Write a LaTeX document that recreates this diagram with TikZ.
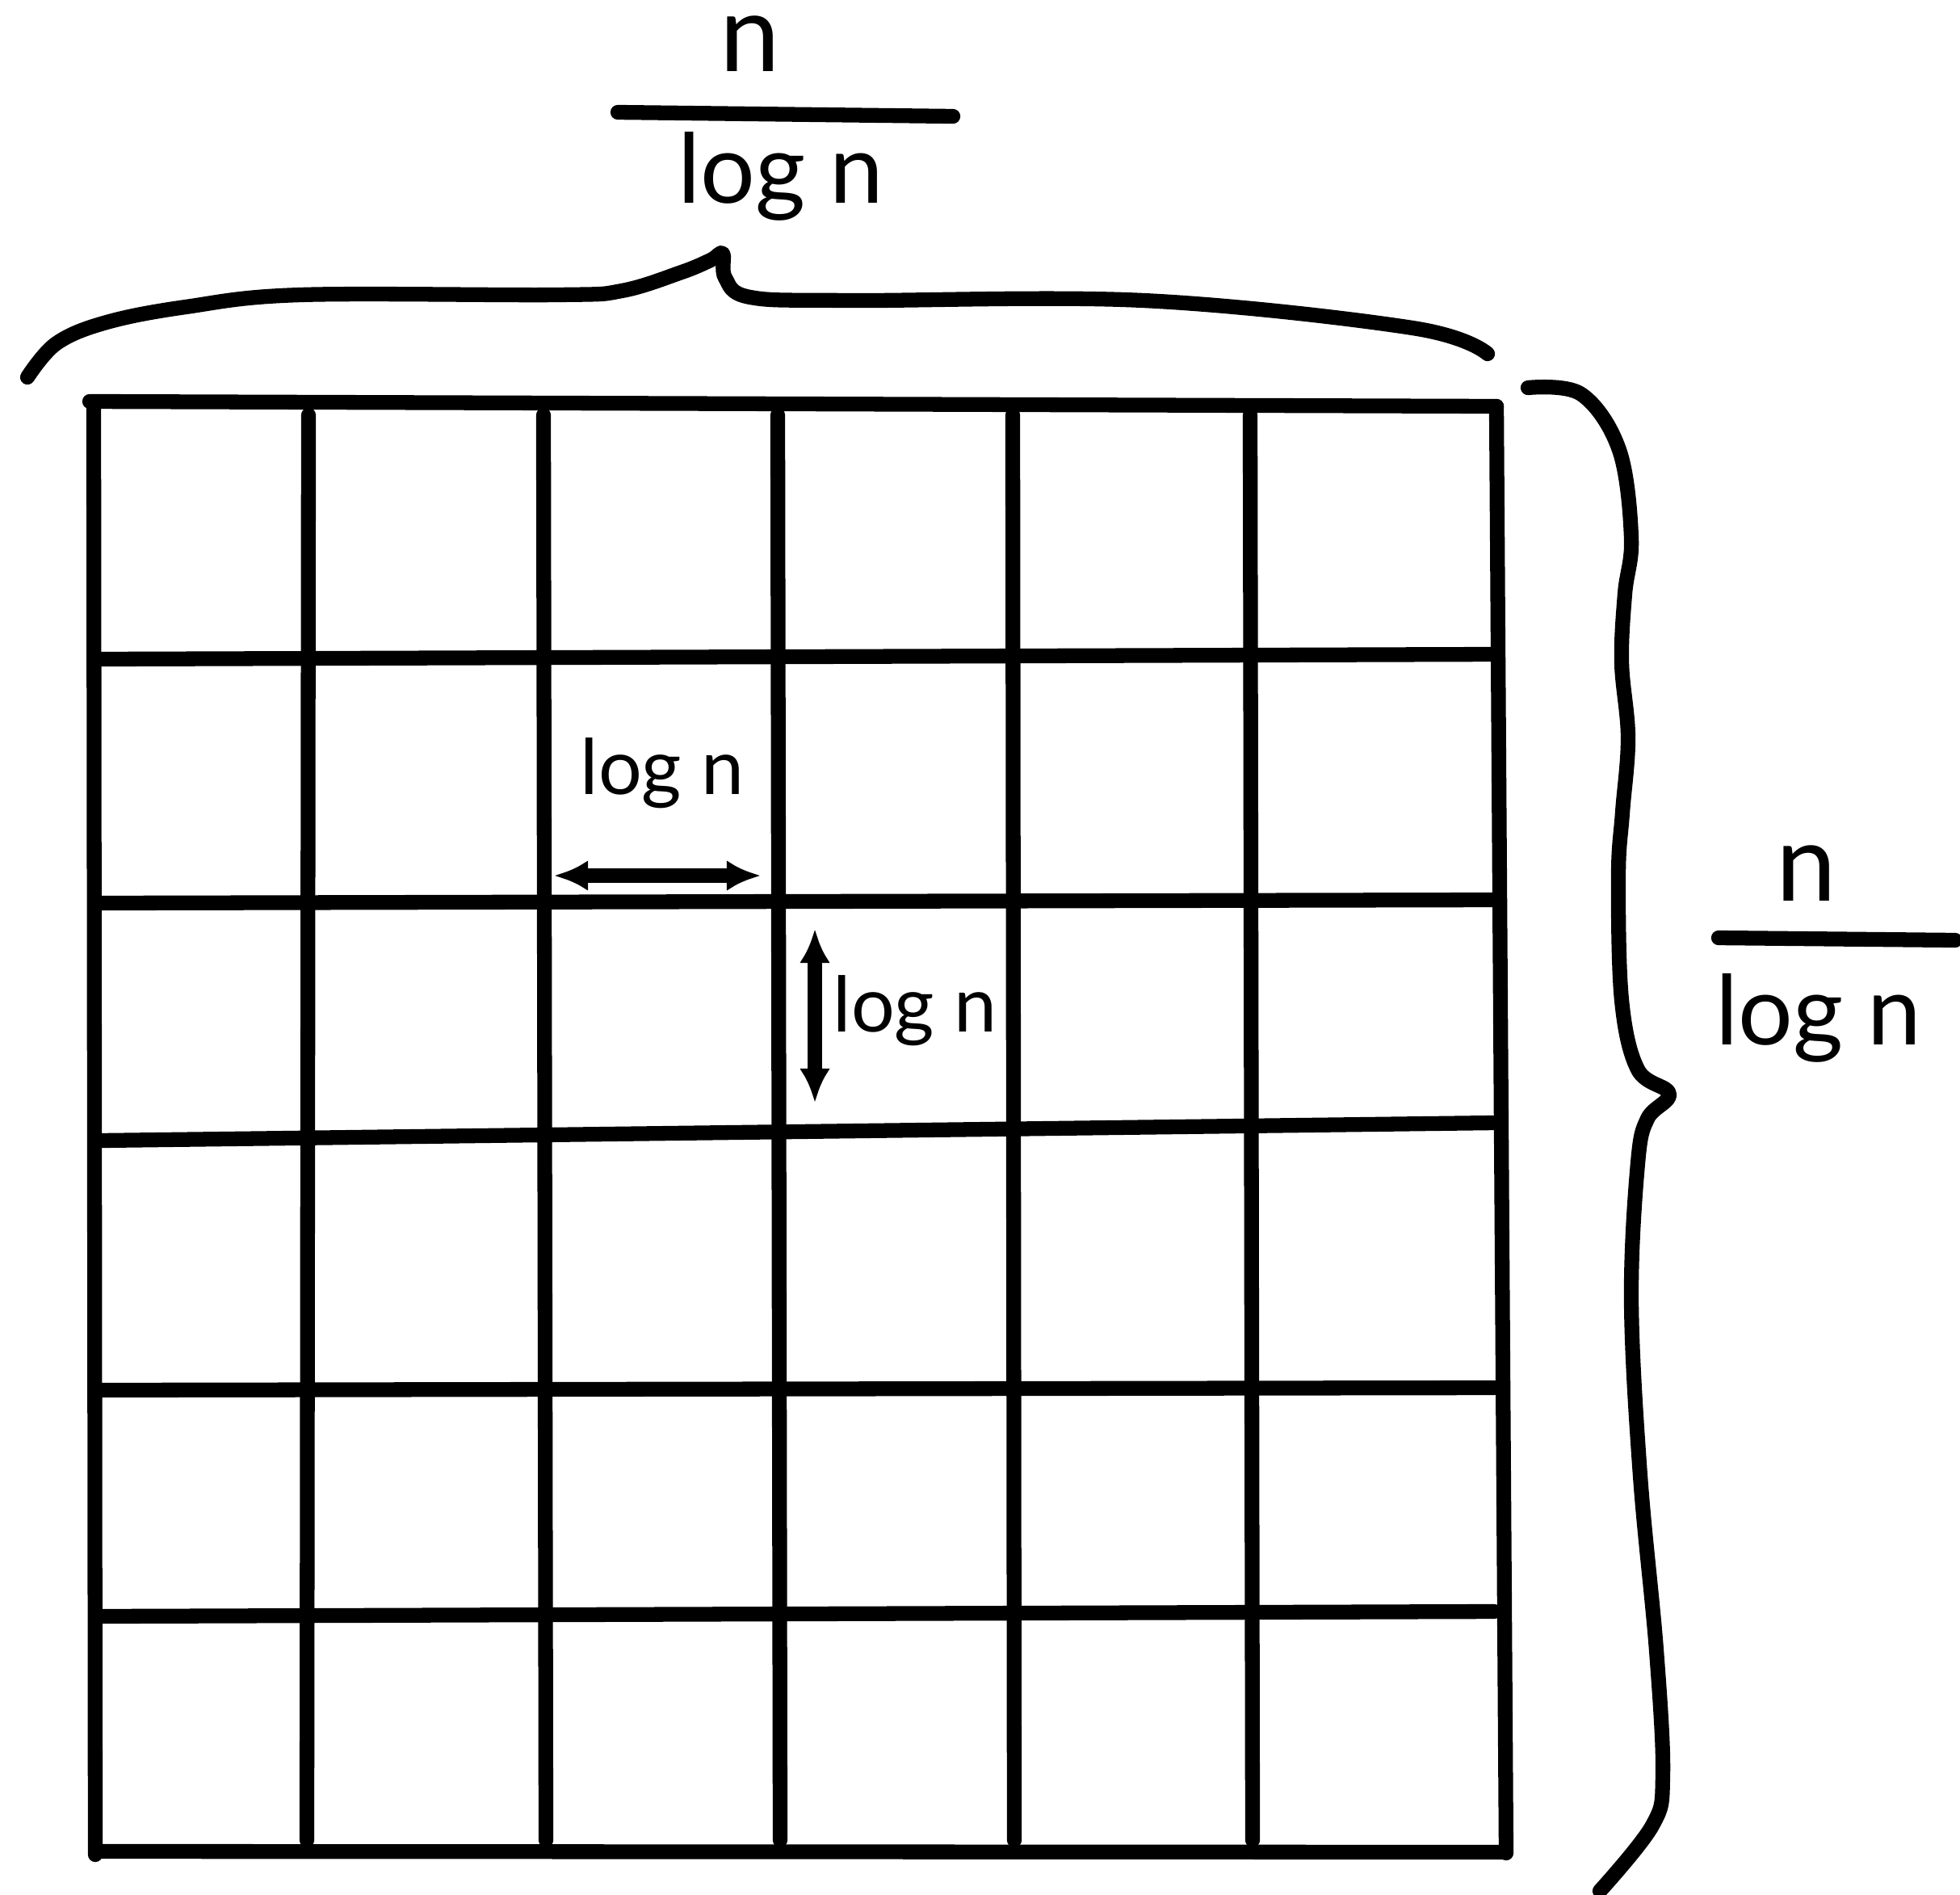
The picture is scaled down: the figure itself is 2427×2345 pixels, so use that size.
\documentclass[tikz,border=0pt]{standalone}
\usepackage{fontspec}
\setmainfont{Lato}
\usetikzlibrary{arrows.meta}
\tikzset{
  ink/.style={line width=5.2pt, line cap=round, line join=round, black},
  lbl/.style={inner sep=0pt, anchor=base, font=\fontsize{34}{40}\selectfont},
  biglbl/.style={inner sep=0pt, anchor=base, text height=0.55em, font=\fontsize{38}{44}\selectfont},
  midlbl/.style={inner sep=0pt, anchor=base, font=\fontsize{27}{32}\selectfont},
  dim/.style={ink, {Latex[length=0.42cm,width=0.38cm]}-{Latex[length=0.42cm,width=0.38cm]}}
}
\begin{document}
\begin{tikzpicture}[x=0.01cm,y=-0.01cm]
\useasboundingbox (0,0) rectangle (2427,2345);
% grid outer frame
\draw[ink] (111,497) -- (1853,503);
\draw[ink] (116,499) -- (118,2296);
\draw[ink] (1853,503) -- (1865,2294);
\draw[ink] (122,2292) -- (1860,2293);
% vertical interior lines
\foreach \x/\b in {382/380, 673/676, 963/966, 1254/1256, 1548/1551}{
  \draw[ink] (\x,514) -- (\b,2278);
}
% horizontal interior lines
\foreach \y/\e in {816/810, 1118/1114, 1412/1390, 1721/1718, 2001/1995}{
  \draw[ink] (124,\y) -- (1850,\e);
}
% top brace
\draw[ink] plot[smooth, tension=0.6] coordinates {(34,467) (70,425) (132,399) (230,380) (372,365) (689,365) (770,360) (844,337) (880,322) (895,314) (898,344) (929,368) (1053,372) (1416,372) (1749,406) (1842,438)};
% right brace
\draw[ink] plot[smooth, tension=0.6] coordinates {(1892,480) (1958,488) (2005,557) (2020,666) (2012,735) (2008,820) (2016,913) (2009,1006) (2004,1084) (2008,1238) (2028,1324) (2067,1354) (2040,1385) (2028,1440) (2020,1610) (2031,1827) (2051,2043) (2059,2198) (2046,2260) (1981,2341)};
% top label
\node[biglbl] (tn) at (929,88) {n};
\coordinate (tbarL) at (765,139);
\coordinate (tbarR) at (1180,144);
\draw[ink] (tbarL) -- (tbarR);
\node[lbl] (tlog) at (967,251) {log n};
% right label
\node[biglbl] (rn) at (2237,1115) {n};
\coordinate (rbarL) at (2128,1161);
\coordinate (rbarR) at (2421,1164);
\draw[ink] (rbarL) -- (rbarR);
\node[lbl] (rlog) at (2252,1293) {log n};
% inner dimension labels
\node[midlbl] (hlog) at (820,983) {log n};
\coordinate (hL) at (686,1084);
\coordinate (hR) at (942,1084);
\draw[dim] (hL) -- (hR);
\coordinate (vT) at (1009,1150);
\coordinate (vB) at (1009,1365);
\draw[dim] (vT) -- (vB);
\node[midlbl] (vlog) at (1133,1277) {log n};
\end{tikzpicture}
\end{document}
